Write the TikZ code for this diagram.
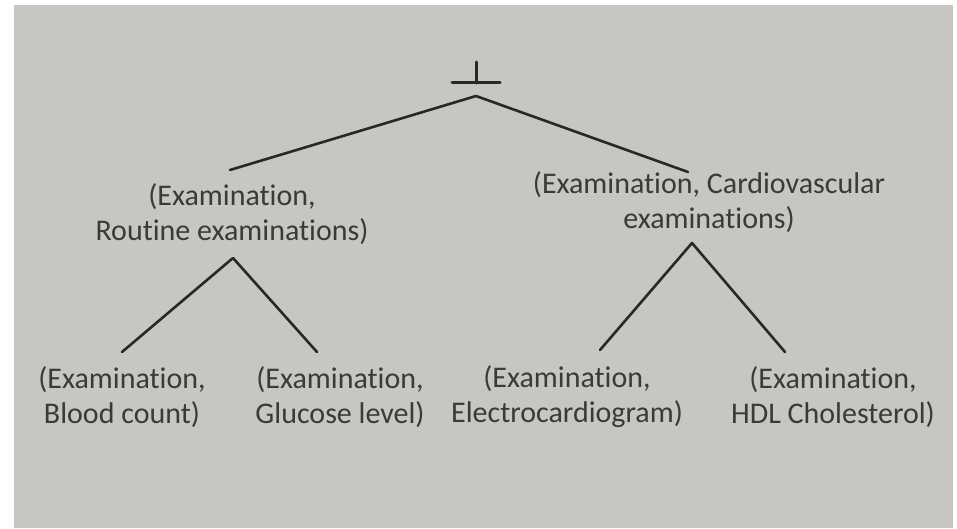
\documentclass[tikz,border=0pt]{standalone}
\usepackage{fontspec}
\setmainfont[Ligatures=CommonOff]{Carlito}
\definecolor{paper}{RGB}{198,198,194}
\definecolor{ink}{RGB}{58,58,58}
\definecolor{lineink}{RGB}{40,40,40}
\tikzset{
  lbl/.style={inner sep=0pt, align=center, text=ink, font=\fontsize{30}{35}\selectfont},
  edge/.style={draw=lineink, line width=2.6pt, line cap=round, line join=round}
}
\begin{document}
\begin{tikzpicture}[x=1pt,y=-1pt]
\useasboundingbox (0,0) rectangle (957,529);
\fill[white] (0,0) rectangle (957,529);
\fill[paper] (14,5) rectangle (953,528);
% bottom symbol (root)
\coordinate (bt) at (476,62);
\coordinate (bb) at (476,83);
\coordinate (bl) at (452,83);
\coordinate (br) at (500,83);
\draw[edge, line width=3pt] (bt) -- (bb);
\draw[edge, line width=3pt] (bl) -- (br);
\coordinate (root) at (476,96);
% level 1
\node[lbl] (n1) at (232,214) {(Examination,\\Routine examinations)};
\node[lbl] (n2) at (709,202) {(Examination, Cardiovascular\\examinations)};
\coordinate (n1top) at (230,170);
\coordinate (n2top) at (688,172);
\draw[edge] (n1top) -- (root) -- (n2top);
% level 2
\node[lbl] (l1) at (122,397) {(Examination,\\Blood count)};
\node[lbl] (l2) at (340,397) {(Examination,\\Glucose level)};
\node[lbl] (l3) at (567,397) {(Examination,\\Electrocardiogram)};
\node[lbl] (l4) at (833,397) {(Examination,\\HDL Cholesterol)};
\coordinate (a1) at (233,258);
\coordinate (a2) at (692,243);
\coordinate (l1top) at (122,352);
\coordinate (l2top) at (317,352);
\coordinate (l3top) at (600,350);
\coordinate (l4top) at (785,352);
\draw[edge] (l1top) -- (a1) -- (l2top);
\draw[edge] (l3top) -- (a2) -- (l4top);
\end{tikzpicture}
\end{document}
